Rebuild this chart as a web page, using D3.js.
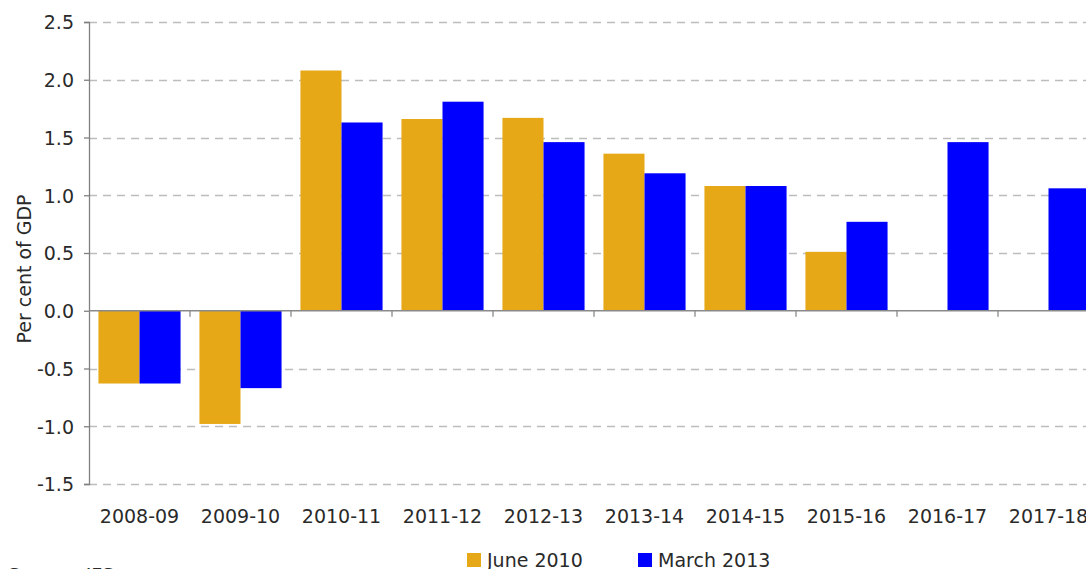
<!DOCTYPE html>
<html>
<head>
<meta charset="utf-8">
<script src="https://cdn.jsdelivr.net/npm/d3@7"></script>
<style>
  body { margin: 0; background: #fff; overflow: hidden; }
  text { font-family: "DejaVu Sans", "Noto Sans", sans-serif; fill: #2a2a2a; }
</style>
</head>
<body>
<div class="chart"></div>
<script>
// data
var years = ["2008-09", "2009-10", "2010-11", "2011-12", "2012-13", "2013-14", "2014-15", "2015-16", "2016-17", "2017-18"];
var june2010 = [-0.63, -0.98, 2.08, 1.66, 1.67, 1.36, 1.08, 0.51, null, null];
var march2013 = [-0.63, -0.67, 1.63, 1.81, 1.46, 1.19, 1.08, 0.77, 1.46, 1.06];
var seriesNames = ["June 2010", "March 2013"];
var yTicks = [-1.5, -1.0, -0.5, 0.0, 0.5, 1.0, 1.5, 2.0, 2.5];

var colors = ["#E6A817", "#0000FF"];

var W = 1086, H = 569;
var margin = {top: 22, left: 89};
var plotW = 1010, plotH = 462;

var svg = d3.select(".chart").append("svg")
  .attr("width", W)
  .attr("height", H);

var x = d3.scaleBand().domain(years).range([margin.left, margin.left + plotW]).paddingInner(0).paddingOuter(0);
var x1 = d3.scaleBand().domain([0, 1]).range([0, x.bandwidth()]).paddingOuter(0.23).paddingInner(0);
var y = d3.scaleLinear().domain([-1.5, 2.5]).range([margin.top + plotH, margin.top]);

// dashed grid
svg.selectAll(".grid")
  .data(yTicks.filter(function(d) { return d !== 0; }))
  .enter().append("line")
  .attr("x1", margin.left)
  .attr("x2", W)
  .attr("y1", function(d) { return Math.round(y(d)) + 0.5; })
  .attr("y2", function(d) { return Math.round(y(d)) + 0.5; })
  .style("stroke", "#bdbdbd")
  .style("stroke-width", 1.3)
  .style("stroke-dasharray", "8,6");

// bars
var rows = [];
years.forEach(function(yr, i) {
  [june2010[i], march2013[i]].forEach(function(v, s) {
    if (v !== null) rows.push({year: yr, s: s, v: v});
  });
});

svg.selectAll(".bar")
  .data(rows)
  .enter().append("rect")
  .attr("x", function(d) { return x(d.year) + x1(d.s); })
  .attr("width", x1.bandwidth())
  .attr("y", function(d) { return y(Math.max(0, d.v)); })
  .attr("height", function(d) { return Math.abs(y(d.v) - y(0)); })
  .style("fill", function(d) { return colors[d.s]; });

// y axis
var yAxis = d3.axisLeft(y).tickValues(yTicks)
  .tickFormat(function(d) { return d3.format(".1f")(d).replace("\u2212", "-"); })
  .tickSize(5).tickPadding(10);
var gy = svg.append("g")
  .attr("transform", "translate(" + margin.left + ",0)")
  .call(yAxis);
gy.select(".domain").style("stroke", "#808080").style("stroke-width", 1.3);
gy.selectAll(".tick line").style("stroke", "#808080").style("stroke-width", 1.3);
gy.selectAll("text").style("font-size", "19px").style("fill", "#2a2a2a").attr("dy", "0.36em");

// x axis at zero
var xAxis = d3.axisBottom(x).tickSize(0).tickPadding(0);
var gx = svg.append("g")
  .attr("transform", "translate(0," + y(0) + ")")
  .call(xAxis);
gx.select(".domain").remove();
gx.selectAll("text").remove();
gx.append("line")
  .attr("x1", margin.left).attr("x2", W)
  .style("stroke", "#8a8a8a").style("stroke-width", 1.5);
gx.selectAll(".sep")
  .data(years)
  .enter().append("line")
  .attr("x1", function(d) { return x(d) + x.bandwidth(); })
  .attr("x2", function(d) { return x(d) + x.bandwidth(); })
  .attr("y1", 0).attr("y2", 6)
  .style("stroke", "#8a8a8a").style("stroke-width", 1.3);

// category labels below plot
svg.selectAll(".xlab")
  .data(years)
  .enter().append("text")
  .attr("x", function(d) { return x(d) + x.bandwidth() / 2; })
  .attr("y", 523)
  .attr("text-anchor", "middle")
  .style("font-size", "19px")
  .text(function(d) { return d; });

// y title
svg.append("text")
  .attr("transform", "translate(31,269) rotate(-90)")
  .attr("text-anchor", "middle")
  .style("font-size", "19px")
  .text("Per cent of GDP");

// legend
var legX = [467, 638];
seriesNames.forEach(function(n, i) {
  svg.append("rect")
    .attr("x", legX[i]).attr("y", 553)
    .attr("width", 14).attr("height", 14)
    .style("fill", colors[i]);
  svg.append("text")
    .attr("x", legX[i] + 20).attr("y", 567)
    .style("font-size", "19px")
    .text(n);
});

// source (cut off at bottom)
svg.append("text")
  .attr("x", 8).attr("y", 582)
  .style("font-size", "19px")
  .text("Source: IFS");
</script>
</body>
</html>
